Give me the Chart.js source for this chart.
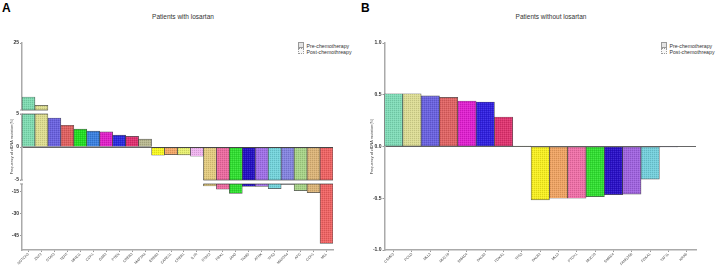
<!DOCTYPE html>
<html>
<head>
<meta charset="utf-8">
<script src="https://cdn.jsdelivr.net/npm/chart.js@4.4.0/dist/chart.umd.min.js"></script>
<style>
  body { margin: 0; background: #fff; }
  #wrap { position: relative; width: 717px; height: 267px; font-family: "Liberation Sans", Arial, sans-serif; color: #333; }
  .panel { position: absolute; top: 0; height: 267px; }
  .letter { position: absolute; top: 2px; font-size: 12px; font-weight: bold; color: #000; line-height: 12px; }
  .title { position: absolute; top: 13px; font-size: 6.5px; line-height: 8px; text-align: center; white-space: nowrap; }
  .legend { position: absolute; font-size: 5.2px; line-height: 6px; white-space: nowrap; }
  .legend div { height: 6px; }
  .sw { display: inline-block; width: 4px; height: 4px; margin-right: 2.5px; vertical-align: -0.5px; border: 0.6px solid #999; }
  .sw.pre { background: #e4e4e4; }
  .sw.post { background: #f7f7f7; border-style: dotted; }
</style>
</head>
<body>
<div id="wrap">
  <div class="letter" style="left:2px">A</div>
  <div class="title" style="left:123px;width:120px">Patients with losartan</div>
  <div class="legend" style="left:298px;top:42px">
    <div><span class="sw pre"></span>Pre-chemotherapy</div>
    <div><span class="sw post"></span>Post-chemothreapy</div>
  </div>
  <canvas id="chartA" class="panel" style="left:0" width="358" height="267"></canvas>

  <div class="letter" style="left:361px">B</div>
  <div class="title" style="left:491px;width:120px">Patients without losartan</div>
  <div class="legend" style="left:661px;top:42px">
    <div><span class="sw pre"></span>Pre-chemotherapy</div>
    <div><span class="sw post"></span>Post-chemothreapy</div>
  </div>
  <canvas id="chartB" class="panel" style="left:360px" width="357" height="267"></canvas>
</div>
<script>
// Panel A - patients with losartan
const genesA = ['NOTCH3', 'ZNF2', 'STAT3', 'TERT', 'MRE11', 'CDH1', 'GAB2', 'PTEN', 'CREB3', 'MAP2K4',
                'ERBB2', 'CARD11', 'CREB1', 'IL7R', 'STAT3', 'PBX1', 'JAK3', 'TNMD', 'ATRX', 'TP53',
                'MAP3K4', 'APC', 'CDH1', 'MLL'];
const valuesA = [8.9, 6.4, 4.4, 3.3, 2.7, 2.4, 2.3, 1.8, 1.6, 1.2,
                 -1.25, -1.15, -1.2, -1.4, -11.4, -13.6, -16.4, -11.6, -11.6, -13.2,
                 -10.3, -14.5, -15.9, -50.5];
const colorsA = ['#7fdcb2', '#dede90', '#6a62e0', '#e06060', '#22e022', '#3a80e0', '#e020c8', '#2a2ae0',
                 '#e03070', '#b8b890', '#f8f820', '#f4a868', '#e8f070', '#f0b4f0', '#e4cc80', '#ec6aa0',
                 '#30e030', '#2410c4', '#a070e8', '#74d4dc', '#8484e0', '#a8d488', '#dcb478', '#f06464'];
const ticksA = [-45, -30, -15, -5, 0, 5, 25];

// Panel B - patients without losartan
const genesB = ['CSMD3', 'PCLO', 'MLL3', 'MUC16', 'SMAD4', 'PALB2', 'FOXA1', 'TP53', 'PALB2', 'MLL3',
                'PTCH1', 'MUC16', 'SMAD4', 'FAM135B', 'FOXA1', 'TAF1L', 'KRAS'];
const valuesB = [0.51, 0.51, 0.49, 0.475, 0.44, 0.43, 0.285, 0.005, -0.515, -0.5,
                 -0.5, -0.485, -0.465, -0.46, -0.315, -0.005, 0];
const colorsB = ['#80dcb8', '#dcdc94', '#6a62e0', '#e06464', '#e020d0', '#3020e0', '#e03470', '#7a8a50',
                 '#f8f020', '#f0a464', '#f070a8', '#30e030', '#2a10c8', '#a064e0', '#74d0dc', '#202060', '#888888'];
const ticksB = [-1, -0.5, 0, 0.5, 1];

// broken axis pieces for panel A (value range -> fraction of axis height)
const segmentsA = [
    { from: -55, to: -10, d0: 0, d1: 0.319 },
    { from: -5, to: 5, d0: 0.338, d1: 0.657 },
    { from: 5, to: 25, d0: 0.676, d1: 1 }
];

function valueToDecimal(v) {
    const segs = segmentsA;
    for (let i = 0; i < segs.length; i++) {
        const s = segs[i];
        if (v <= s.to) {
            if (v >= s.from || i === 0) {
                return s.d0 + (v - s.from) / (s.to - s.from) * (s.d1 - s.d0);
            }
            const p = segs[i - 1];
            return p.d1 + (v - p.to) / (s.from - p.to) * (s.d0 - p.d1);
        }
    }
    const l = segs[segs.length - 1];
    return l.d0 + (v - l.from) / (l.to - l.from) * (l.d1 - l.d0);
}

function decimalToValue(d) {
    for (const s of segmentsA) {
        if (d <= s.d1) return s.from + (d - s.d0) / (s.d1 - s.d0) * (s.to - s.from);
    }
    return segmentsA[segmentsA.length - 1].to;
}

class BrokenScale extends Chart.LinearScale {
    buildTicks() {
        return ticksA.map(v => ({ value: v }));
    }
    getPixelForValue(value) {
        return this.getPixelForDecimal(valueToDecimal(value));
    }
    getValueForPixel(pixel) {
        return decimalToValue(this.getDecimalForPixel(pixel));
    }
}
BrokenScale.id = 'broken';
BrokenScale.defaults = {};
Chart.register(BrokenScale);

// white gaps across the broken axis, with edge lines on the bars crossing them
const axisBreaks = {
    id: 'axisBreaks',
    afterDatasetsDraw(chart) {
        const y = chart.scales.y;
        if (y.type !== 'broken') return;
        const { ctx, chartArea } = chart;
        const bars = chart.getDatasetMeta(0).data;
        for (let i = 1; i < segmentsA.length; i++) {
            const lo = y.getPixelForDecimal(segmentsA[i - 1].d1);
            const hi = y.getPixelForDecimal(segmentsA[i].d0);
            ctx.save();
            ctx.fillStyle = '#fff';
            ctx.fillRect(chartArea.left - 1, hi, chartArea.right - chartArea.left + 3, lo - hi);
            ctx.strokeStyle = 'rgba(40,40,40,0.8)';
            ctx.lineWidth = 0.7;
            bars.forEach(b => {
                const p = b.getProps(['x', 'y', 'base', 'width'], true);
                const top = Math.min(p.y, p.base), bot = Math.max(p.y, p.base);
                if (top < hi && bot > lo) {
                    ctx.beginPath();
                    ctx.moveTo(p.x - p.width / 2, hi); ctx.lineTo(p.x + p.width / 2, hi);
                    ctx.moveTo(p.x - p.width / 2, lo); ctx.lineTo(p.x + p.width / 2, lo);
                    ctx.stroke();
                }
            });
            ctx.strokeStyle = '#999';
            ctx.lineWidth = 1;
            ctx.beginPath();
            ctx.moveTo(chartArea.left - 2, hi); ctx.lineTo(chartArea.left + 1, hi);
            ctx.moveTo(chartArea.left - 2, lo); ctx.lineTo(chartArea.left + 1, lo);
            ctx.stroke();
            ctx.restore();
        }
    }
};

// dotted fill like the printed figure
function dotted(color) {
    const c = document.createElement('canvas');
    c.width = 2; c.height = 2;
    const g = c.getContext('2d');
    g.fillStyle = color;
    g.fillRect(0, 0, 2, 2);
    g.fillStyle = 'rgba(0,0,0,0.12)';
    g.fillRect(0, 0, 1, 1);
    g.fillStyle = 'rgba(255,255,255,0.12)';
    g.fillRect(1, 1, 1, 1);
    return g.createPattern(c, 'repeat');
}

function makeChart(id, labels, values, colors, yScale, padLeftAxis, padRight) {
    return new Chart(document.getElementById(id), {
        type: 'bar',
        data: {
            labels: labels,
            datasets: [{
                data: values,
                backgroundColor: colors.map(dotted),
                borderColor: 'rgba(30,30,30,0.75)',
                borderWidth: 0.7,
                borderSkipped: false,
                barPercentage: 1,
                categoryPercentage: 1
            }]
        },
        options: {
            responsive: false,
            animation: false,
            events: [],
            layout: { padding: { top: 43, right: padRight, bottom: 0, left: 0 } },
            plugins: { legend: { display: false }, tooltip: { enabled: false } },
            scales: {
                x: {
                    afterFit: s => { s.height = 17; },
                    grid: { offset: false, drawOnChartArea: false, tickLength: 2, tickColor: '#999' },
                    border: { color: '#aaa', width: 1.5 },
                    ticks: {
                        autoSkip: false, minRotation: 45, maxRotation: 45, padding: 0,
                        color: '#444', font: { family: 'Liberation Sans', size: 3.6 }
                    }
                },
                y: Object.assign({
                    afterFit: s => { s.width = padLeftAxis; },
                    grid: {
                        drawOnChartArea: true, tickLength: 2, tickColor: '#999', lineWidth: 1,
                        color: c => (c.tick && c.tick.value === 0) ? '#666' : 'rgba(0,0,0,0)'
                    },
                    border: { color: '#aaa', width: 1.5 },
                    title: {
                        display: true, text: 'Frequency of cfDNA mutation(%)',
                        color: '#444', padding: { top: 9.5, bottom: 0 },
                        font: { family: 'Liberation Sans', size: 3.8 }
                    }
                }, yScale)
            }
        },
        plugins: [axisBreaks]
    });
}

makeChart('chartA', genesA, valuesA, colorsA, {
    type: 'broken', min: -55, max: 25,
    ticks: {
        autoSkip: false, padding: 1, color: '#333',
        font: { family: 'Liberation Sans', size: 5, weight: 'bold' },
        callback: v => String(v)
    }
}, 22, 25);

makeChart('chartB', genesB, valuesB, colorsB, {
    type: 'linear', min: -1, max: 1,
    afterBuildTicks: s => { s.ticks = ticksB.map(v => ({ value: v })); },
    ticks: {
        autoSkip: false, padding: 1, color: '#333',
        font: { family: 'Liberation Sans', size: 5, weight: 'bold' },
        callback: v => v.toFixed(1)
    }
}, 24.5, 21);
</script>
</body>
</html>
